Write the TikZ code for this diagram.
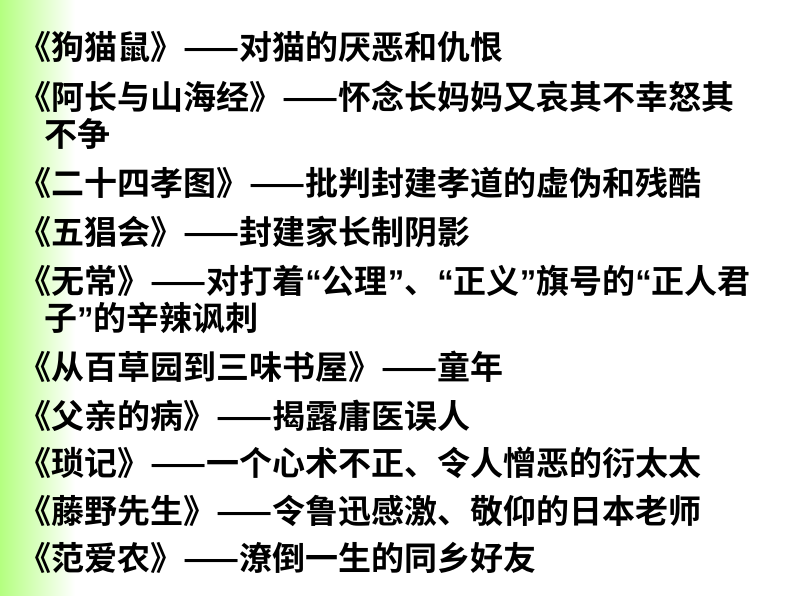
\documentclass[tikz,border=0pt]{standalone}
\usepackage{fontspec}
\newfontfamily\cjk{Noto Sans CJK SC}[BoldFont={Noto Sans CJK SC Bold}]
\newfontfamily\lat{Liberation Sans}
\newcommand{\myLQ}{{\lat\bfseries “}}
\newcommand{\myRQ}{{\lat\bfseries ”}}
\begin{document}
\begin{tikzpicture}[x=1pt,y=-1pt,
  txt/.style={anchor=west,inner sep=0pt,font=\cjk\bfseries\fontsize{33}{34}\selectfont,text=black}]
\useasboundingbox (0,0) rectangle (794,596);
\fill[white] (0,0) rectangle (794,596);
\shade[left color=green!45!lime!50!white,right color=white] (0,0) rectangle (75,596);
\node[txt] (l1) at (18,47) {《狗猫鼠》——对猫的厌恶和仇恨};
\node[txt] (l2) at (18,97) {《阿长与山海经》——怀念长妈妈又哀其不幸怒其};
\node[txt] (l2b) at (44,134) {不争};
\node[txt] (l3) at (18,183) {《二十四孝图》——批判封建孝道的虚伪和残酷};
\node[txt] (l4) at (18,232) {《五猖会》——封建家长制阴影};
\node[txt] (l5) at (18,281) {《无常》——对打着\myLQ 公理\myRQ 、\myLQ 正义\myRQ 旗号的\myLQ 正人君};
\node[txt] (l5b) at (44,318) {子\myRQ 的辛辣讽刺};
\node[txt] (l6) at (18,367) {《从百草园到三味书屋》——童年};
\node[txt] (l7) at (18,416) {《父亲的病》——揭露庸医误人};
\node[txt] (l8) at (18,463) {《琐记》——一个心术不正、令人憎恶的衍太太};
\node[txt] (l9) at (18,511) {《藤野先生》——令鲁迅感激、敬仰的日本老师};
\node[txt] (l10) at (18,558) {《范爱农》——潦倒一生的同乡好友};
\end{tikzpicture}
\end{document}
